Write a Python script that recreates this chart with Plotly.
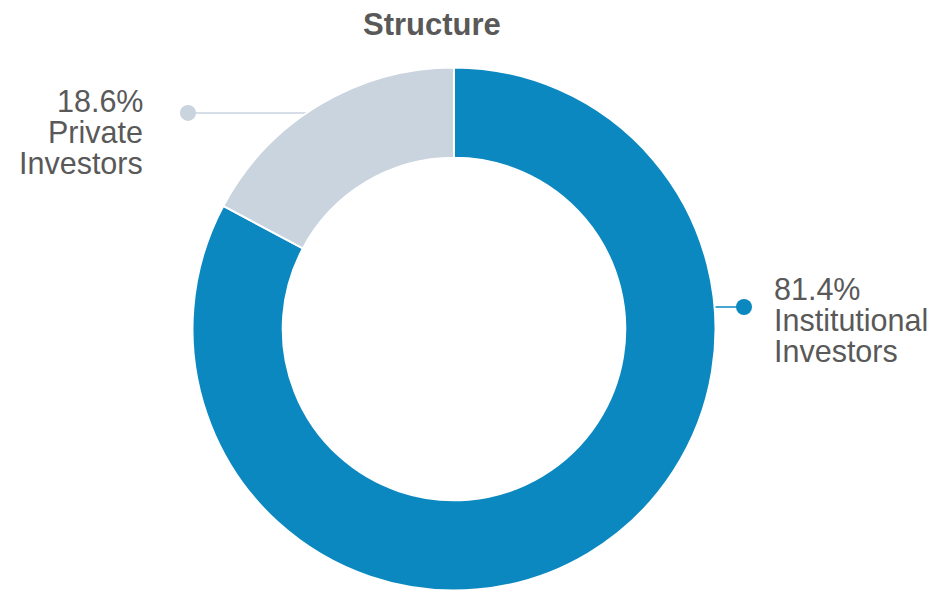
import math
import plotly.graph_objects as go

labels = ["Institutional Investors", "Private Investors"]
label_pct = [81.4, 18.6]          # printed percentages
drawn_values = [82.8, 17.2]       # slice sizes as drawn in the picture
colors = ["#0b88c0", "#c9d4df"]
title_text = "Structure"

W, H = 949, 592
CX, CY, R = 454, 329, 261.5
TEXT_COLOR = "#595959"
FONT = "Liberation Sans, Arial, sans-serif"
LABEL_SIZE = 30.5
LINE_GAP = 31

def px(x):
    return x / W

def py(y):
    return 1 - y / H

fig = go.Figure(go.Pie(
    labels=labels, values=drawn_values, sort=False, direction="clockwise", rotation=0,
    hole=0.655, marker=dict(colors=colors, line=dict(color="white", width=2)),
    textinfo="none", hoverinfo="label+percent", showlegend=False,
    domain=dict(x=[px(CX - R), px(CX + R)], y=[py(CY + R), py(CY - R)]),
))

total = sum(label_pct)
shapes, annos = [], []
cum = 0
for i, (lab, v) in enumerate(zip(labels, label_pct)):
    mid = (cum + v / 2) / total * 2 * math.pi
    cum += v
    if i == 0:
        ly = 307
        side = 1
    else:
        ly = CY - R * math.cos(mid) + 2
        side = -1
    edge_x = CX + side * math.sqrt(max(R * R - (ly - CY) ** 2, 0))
    dot_x = 744 if side == 1 else 188
    shapes.append(dict(type="line", xref="paper", yref="paper",
                       x0=px(edge_x), y0=py(ly), x1=px(dot_x), y1=py(ly),
                       line=dict(color=colors[i], width=1.5), layer="below"))
    shapes.append(dict(type="circle", xref="paper", yref="paper",
                       x0=px(dot_x - 8), y0=py(ly - 8), x1=px(dot_x + 8), y1=py(ly + 8),
                       fillcolor=colors[i], line=dict(width=0)))
    pct = f"{v:.1f}%"
    lines = [pct] + lab.split(" ")
    tx = 773 if side == 1 else 143.5
    base0 = ly - 18 if side == 1 else ly - 12
    for k, t in enumerate(lines):
        yc = base0 + k * LINE_GAP
        annos.append(dict(text=t, x=px(tx), y=py(yc), xref="paper", yref="paper",
                          xanchor="left" if side == 1 else "right", yanchor="middle",
                          height=LINE_GAP - 1, valign="middle", borderpad=0,
                          showarrow=False, font=dict(size=LABEL_SIZE, color=TEXT_COLOR, family=FONT)))

annos.append(dict(text="<b>" + title_text + "</b>", x=px(432), y=py(24), xref="paper", yref="paper",
                  xanchor="center", yanchor="middle", showarrow=False,
                  font=dict(size=31, color=TEXT_COLOR, family=FONT)))

fig.update_layout(width=W, height=H, margin=dict(l=0, r=0, t=0, b=0),
                  paper_bgcolor="white", plot_bgcolor="white",
                  shapes=shapes, annotations=annos)
fig.write_html("out.html")
